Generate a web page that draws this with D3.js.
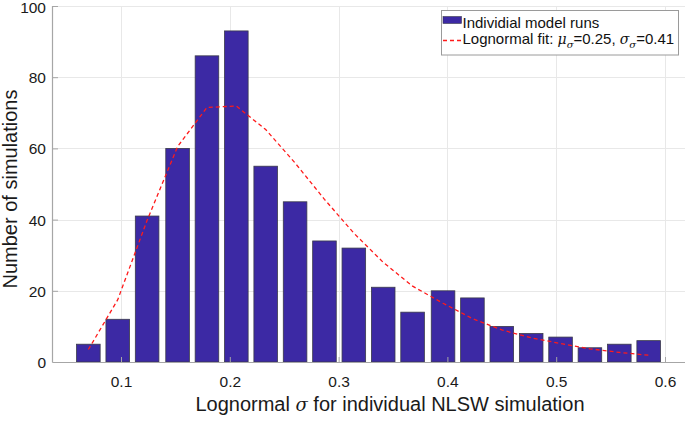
<!DOCTYPE html>
<html>
<head>
<meta charset="utf-8">
<script src="https://cdn.jsdelivr.net/npm/d3@7"></script>
<style>
  html, body { margin: 0; padding: 0; background: #fff; }
  svg { display: block; font-family: "Liberation Sans", Arial, Helvetica, sans-serif; }
</style>
</head>
<body>
<svg id="chart" width="685" height="421"></svg>
<script>
// ---- data ----
const binCenters = [0.070, 0.097, 0.124, 0.152, 0.179, 0.206, 0.233, 0.260, 0.287, 0.314,
                    0.341, 0.368, 0.396, 0.423, 0.450, 0.477, 0.504, 0.531, 0.558, 0.585];
const counts = [5, 12, 41, 60, 86, 93, 55, 45, 34, 32, 21, 14, 20, 18, 10, 8, 7, 4, 5, 6];
const fitValues = [3.5, 17.5, 39.8, 60.5, 71.5, 71.9, 65.3, 55.9, 45.7, 36.2,
                   28.0, 21.3, 16.5, 12.2, 9.0, 6.8, 5.2, 3.7, 2.7, 1.9];
const binWidth = 0.0271;
const xTicks = [0.1, 0.2, 0.3, 0.4, 0.5, 0.6];
const yTicks = [0, 20, 40, 60, 80, 100];
const xLabel = "for individual NLSW simulation";
const yLabel = "Number of simulations";
const legendBars = "Individial model runs";

// ---- layout ----
const svg = d3.select("#chart");
const pLeft = 53, pTop = 6, pBottom = 362, pRight = 685;
const x = d3.scaleLinear().domain([0.0375, 0.62]).range([pLeft, pLeft + 0.5825 * 1088]);
const y = d3.scaleLinear().domain([0, 100]).range([pBottom, pTop]);

const axisColor = "#a6a6a6";
const gridColor = "#e8e8e8";

// grid
const g = svg.append("g");
g.selectAll(".vg").data(xTicks).enter().append("line")
  .attr("x1", d => Math.round(x(d)) + 0.5).attr("x2", d => Math.round(x(d)) + 0.5)
  .attr("y1", pTop).attr("y2", pBottom)
  .attr("stroke", gridColor).attr("stroke-width", 1);
g.selectAll(".hg").data(yTicks.filter(d => d > 0)).enter().append("line")
  .attr("x1", pLeft).attr("x2", pRight)
  .attr("y1", d => Math.round(y(d)) + 0.5).attr("y2", d => Math.round(y(d)) + 0.5)
  .attr("stroke", gridColor).attr("stroke-width", 1);

// bars
const barW = x(binWidth * 0.8) - x(0);
svg.append("g").selectAll("rect").data(counts).enter().append("rect")
  .attr("x", (d, i) => x(binCenters[i]) - barW / 2)
  .attr("width", barW)
  .attr("y", d => y(d))
  .attr("height", d => y(0) - y(d))
  .attr("fill", "#3c29a4")
  .attr("stroke", "#3a3a4a")
  .attr("stroke-width", 0.8);

// fit line
const line = d3.line().x((d, i) => x(binCenters[i])).y(d => y(d));
svg.append("path").datum(fitValues)
  .attr("d", line)
  .attr("fill", "none")
  .attr("stroke", "#ff1a1a")
  .attr("stroke-width", 1.3)
  .attr("stroke-dasharray", "4,3");

// axes
const xAxis = d3.axisBottom(x).tickValues(xTicks).tickSize(-5).tickPadding(14)
  .tickFormat(d3.format(".1f"));
const yAxis = d3.axisLeft(y).tickValues(yTicks).tickSize(-5).tickPadding(7)
  .tickFormat(d3.format("d"));

const gx = svg.append("g").attr("transform", `translate(0,${pBottom})`).call(xAxis);
const gy = svg.append("g").attr("transform", `translate(${pLeft},0)`).call(yAxis);
[gx, gy].forEach(a => {
  a.select(".domain").remove();
  a.selectAll(".tick line").attr("stroke", axisColor);
  a.selectAll(".tick text").attr("fill", "#1a1a1a")
    .style("font-size", "15.5px")
    .style("font-family", "'Liberation Sans', Arial, sans-serif");
});
gy.selectAll(".tick text").attr("dy", "0.36em");
gy.selectAll(".tick").filter(d => d === 100).select("text").attr("dy", "0.45em");
svg.append("line").attr("x1", pLeft - 0.5).attr("x2", pRight).attr("y1", pBottom + 0.5).attr("y2", pBottom + 0.5)
  .attr("stroke", axisColor).attr("stroke-width", 1.2);
svg.append("line").attr("x1", pLeft - 0.5).attr("x2", pLeft - 0.5).attr("y1", pTop).attr("y2", pBottom + 0.5)
  .attr("stroke", axisColor).attr("stroke-width", 1.2);

// axis labels
const xl = svg.append("text")
  .attr("x", 390).attr("y", 411)
  .attr("text-anchor", "middle")
  .attr("fill", "#1a1a1a")
  .style("font-size", "20px");
xl.append("tspan").text("Lognormal ");
xl.append("tspan").attr("font-style", "italic").attr("font-family", "'DejaVu Serif', serif").style("font-size", "18px").text("σ");
xl.append("tspan").text(" " + xLabel);

svg.append("text")
  .attr("transform", "translate(17,189) rotate(-90)")
  .attr("text-anchor", "middle")
  .attr("fill", "#1a1a1a")
  .style("font-size", "20px")
  .text(yLabel);

// legend
const lg = svg.append("g");
lg.append("rect").attr("x", 441.5).attr("y", 10.5).attr("width", 237).attr("height", 44.5)
  .attr("fill", "#fff").attr("stroke", "#9a9a9a").attr("stroke-width", 1);
lg.append("rect").attr("x", 443).attr("y", 16.5).attr("width", 18.5).attr("height", 7)
  .attr("fill", "#3c29a4").attr("stroke", "#3a3a4a").attr("stroke-width", 0.6);
lg.append("text").attr("x", 462.5).attr("y", 27.5).attr("fill", "#111")
  .style("font-size", "15px").text(legendBars);
lg.append("line").attr("x1", 443).attr("x2", 462).attr("y1", 40.5).attr("y2", 40.5)
  .attr("stroke", "#ff1a1a").attr("stroke-width", 1.3).attr("stroke-dasharray", "4,3");
const t2 = lg.append("text").attr("x", 462.5).attr("y", 44).attr("fill", "#111").style("font-size", "15px");
t2.append("tspan").text("Lognormal fit: ");
t2.append("tspan").attr("font-style", "italic").attr("font-family", "'DejaVu Serif', serif").style("font-size", "14px").text("μ");
t2.append("tspan").attr("font-style", "italic").attr("font-family", "'DejaVu Serif', serif").style("font-size", "10px").attr("dy", 4).text("σ");
t2.append("tspan").attr("dy", -4).text("=0.25, ");
t2.append("tspan").attr("font-style", "italic").attr("font-family", "'DejaVu Serif', serif").style("font-size", "14px").text("σ");
t2.append("tspan").attr("font-style", "italic").attr("font-family", "'DejaVu Serif', serif").style("font-size", "10px").attr("dy", 4).text("σ");
t2.append("tspan").attr("dy", -4).text("=0.41");
</script>
</body>
</html>
